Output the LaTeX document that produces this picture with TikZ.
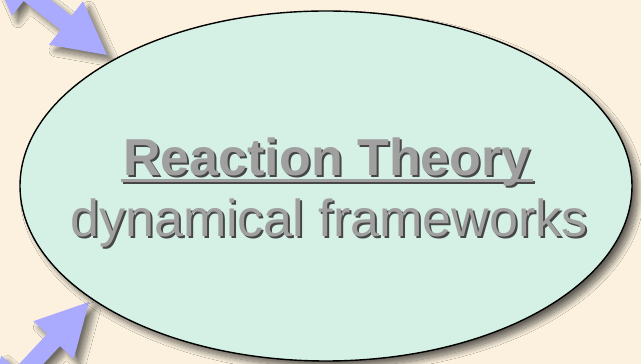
\documentclass[tikz,border=0pt]{standalone}
\usepackage{fontspec}
\setmainfont{Liberation Sans}
\usetikzlibrary{shapes.geometric,shadows.blur}
\definecolor{bg}{RGB}{251,241,222}
\definecolor{mint}{RGB}{213,240,228}
\definecolor{arrowblue}{RGB}{170,170,255}
\definecolor{txtgray}{RGB}{160,160,160}
\definecolor{txtshadow}{RGB}{70,70,70}
\newcommand\myul[1]{\setbox0\hbox{#1}\rlap{\kern-2pt\rule[-6pt]{\dimexpr\wd0+4pt\relax}{3pt}}\box0}
\begin{document}
\begin{tikzpicture}[x=1pt,y=1pt,
  bigarrow/.style={fill=arrowblue, blur shadow={shadow xshift=6pt, shadow yshift=-6pt, shadow opacity=55, shadow blur steps=12, shadow blur radius=6pt}},
  ellbox/.style={ellipse, draw=black, line width=1.4pt, fill=mint, minimum width=612pt, minimum height=350pt, inner sep=0pt,
     blur shadow={shadow xshift=6pt, shadow yshift=-6pt, shadow opacity=60, shadow blur steps=12, shadow blur radius=6pt}},
  bigtxt/.style={inner sep=0pt, anchor=base, font=\fontsize{52}{60}\selectfont},
]
\useasboundingbox (0,0) rectangle (641,364);
\fill[bg] (0,0) rectangle (641,364);
% arrows
\begin{scope}[shift={(107,309)}, rotate=-38]
  \path[bigarrow] (0,0) -- (-52,27.6) -- (-52,8.8) -- (-99,8.8) -- (-99,27.6) -- (-151,0) -- (-99,-27.6) -- (-99,-8.8) -- (-52,-8.8) -- (-52,-27.6) -- cycle;
\end{scope}
\begin{scope}[shift={(89,62)}, rotate=47]
  \path[bigarrow] (0,0) -- (-52,27.6) -- (-52,8.8) -- (-99,8.8) -- (-99,27.6) -- (-151,0) -- (-99,-27.6) -- (-99,-8.8) -- (-52,-8.8) -- (-52,-27.6) -- cycle;
\end{scope}
\node[ellbox] (ell) at (326,178) {};
% text with shadow
\node[bigtxt, text=txtshadow] (t1s) at (329,186) {\bfseries\myul{Reaction Theory}};
\node[bigtxt, text=txtgray] (t1) at (327,188) {\bfseries\myul{Reaction Theory}};
\node[bigtxt, text=txtshadow] (t2s) at (331,125) {dynamical frameworks};
\node[bigtxt, text=txtgray] (t2) at (329,127) {dynamical frameworks};
\end{tikzpicture}
\end{document}
